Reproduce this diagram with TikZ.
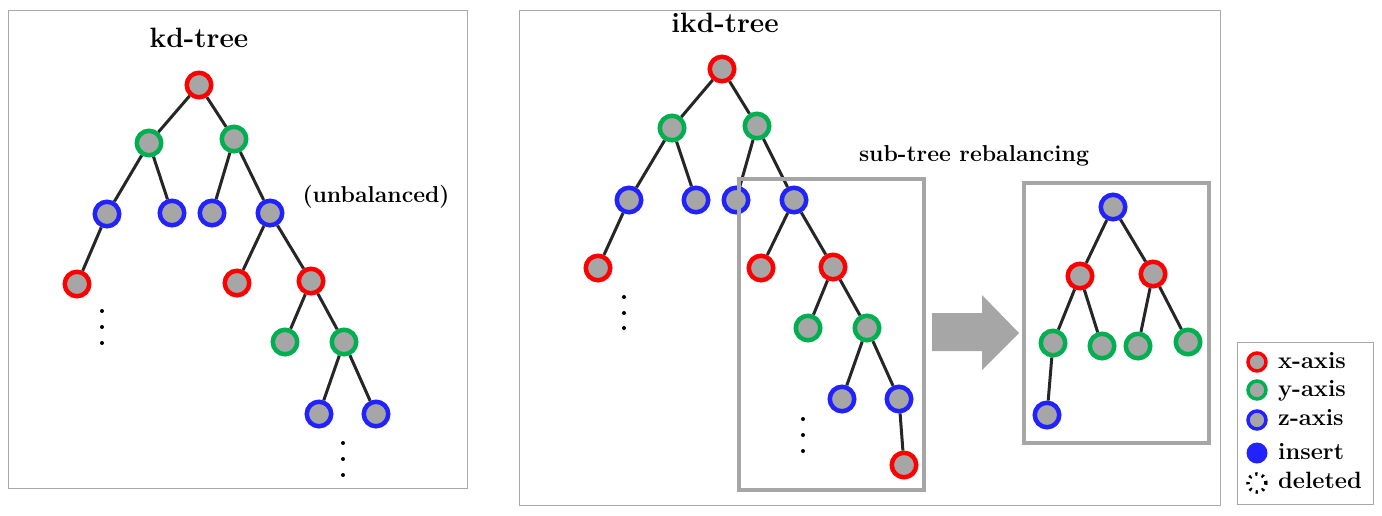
\documentclass[tikz,border=0pt]{standalone}
\usepackage{fontspec}
\definecolor{xred}{HTML}{FF0000}
\definecolor{ygreen}{HTML}{00B050}
\definecolor{zblue}{HTML}{2222FF}
\definecolor{ndgray}{HTML}{A6A6A6}
\definecolor{edgecol}{HTML}{262626}
\definecolor{framegray}{HTML}{A8A8A8}
\definecolor{boxgray}{HTML}{A6A6A6}
\tikzset{
  nd/.style={circle, line width=4.5pt, fill=ndgray, minimum size=24.5pt, inner sep=0pt},
  xn/.style={nd, draw=xred},
  yn/.style={nd, draw=ygreen},
  zn/.style={nd, draw=zblue},
  ln/.style={circle, line width=3.5pt, fill=ndgray, minimum size=18pt, inner sep=0pt},
  edge/.style={line width=3pt, draw=edgecol},
  frame/.style={draw=framegray, line width=1pt},
  rbox/.style={draw=boxgray, line width=4pt},
  dotm/.style={circle, fill=black, inner sep=0pt, minimum size=4pt},
  ttl/.style={font=\fontsize{28}{31}\selectfont\bfseries, anchor=base, inner sep=0pt},
  lbl/.style={font=\fontsize{23}{26}\selectfont\bfseries, inner sep=0pt},
  lgd/.style={font=\fontsize{23.6}{26}\selectfont\bfseries, inner sep=0pt, anchor=base west},
}
\begin{document}
\begin{tikzpicture}[x=1pt,y=-1pt]
\useasboundingbox (0,0) rectangle (1382,515);
% ---------- frames ----------
\draw[frame] (8,10) rectangle (467,488);
\draw[frame] (519,10) rectangle (1220,505);
\draw[frame] (1237,342) rectangle (1373,504);
% ---------- kd-tree ----------
\node[ttl] (kdt) at (199,47) {kd-tree};
\node[lbl, anchor=base] (unb) at (376,202) {(unbalanced)};
\node[xn] (k0) at (199,85) {};
\node[yn] (k1) at (149,143) {};
\node[yn] (k2) at (234,139) {};
\node[zn] (k3) at (107,214) {};
\node[zn] (k4) at (172,213) {};
\node[zn] (k5) at (212,213) {};
\node[zn] (k6) at (270,213) {};
\node[xn] (k7) at (77,284) {};
\node[xn] (k8) at (237,283) {};
\node[xn] (k9) at (311,281) {};
\node[yn] (k10) at (285,342) {};
\node[yn] (k11) at (344,342) {};
\node[zn] (k12) at (319,414) {};
\node[zn] (k13) at (376,414) {};
\draw[edge] (k0) -- (k1); \draw[edge] (k0) -- (k2);
\draw[edge] (k1) -- (k3); \draw[edge] (k1) -- (k4);
\draw[edge] (k2) -- (k5); \draw[edge] (k2) -- (k6);
\draw[edge] (k3) -- (k7);
\draw[edge] (k6) -- (k8); \draw[edge] (k6) -- (k9);
\draw[edge] (k9) -- (k10); \draw[edge] (k9) -- (k11);
\draw[edge] (k11) -- (k12); \draw[edge] (k11) -- (k13);
\node[dotm] (kd1) at (102,311) {};
\node[dotm] (kd2) at (102,327) {};
\node[dotm] (kd3) at (102,343) {};
\node[dotm] (kd4) at (343,443) {};
\node[dotm] (kd5) at (343,459) {};
\node[dotm] (kd6) at (343,475) {};
% ---------- ikd-tree ----------
\node[ttl] (ikdt) at (725,32) {ikd-tree};
\node[xn] (i0) at (722,69) {};
\node[yn] (i1) at (672,128) {};
\node[yn] (i2) at (757,126) {};
\node[zn] (i3) at (629,200) {};
\node[zn] (i4) at (696,200) {};
\node[zn] (i5) at (736,200) {};
\node[zn] (i6) at (794,200) {};
\node[xn] (i7) at (598,268) {};
\node[xn] (i8) at (761,268) {};
\node[xn] (i9) at (833,267) {};
\node[yn] (i10) at (808,328) {};
\node[yn] (i11) at (867,328) {};
\node[zn] (i12) at (842,399) {};
\node[zn] (i13) at (899,399) {};
\node[xn] (i14) at (904,465) {};
\draw[edge] (i0) -- (i1); \draw[edge] (i0) -- (i2);
\draw[edge] (i1) -- (i3); \draw[edge] (i1) -- (i4);
\draw[edge] (i2) -- (i5); \draw[edge] (i2) -- (i6);
\draw[edge] (i3) -- (i7);
\draw[edge] (i6) -- (i8); \draw[edge] (i6) -- (i9);
\draw[edge] (i9) -- (i10); \draw[edge] (i9) -- (i11);
\draw[edge] (i11) -- (i12); \draw[edge] (i11) -- (i13);
\draw[edge] (i13) -- (i14);
\node[dotm] (id1) at (624,297) {};
\node[dotm] (id2) at (624,313) {};
\node[dotm] (id3) at (624,328) {};
\node[dotm] (id4) at (803,419) {};
\node[dotm] (id5) at (803,435) {};
\node[dotm] (id6) at (803,451) {};
% rebalancing box (drawn over nodes)
\draw[rbox] (739,179) rectangle (924,490);
\node[lbl, anchor=base] (sub) at (974,161) {sub-tree rebalancing};
% big arrow
\fill[boxgray] (932,313) -- (982,313) -- (982,295) -- (1019,333) -- (982,370) -- (982,351) -- (932,351) -- cycle;
% rebalanced subtree
\draw[rbox] (1024,183) rectangle (1209,443);
\node[zn] (r0) at (1113,207) {};
\node[xn] (r1) at (1080,276) {};
\node[xn] (r2) at (1153,274) {};
\node[yn] (r3) at (1053,343) {};
\node[yn] (r4) at (1102,346) {};
\node[yn] (r5) at (1138,346) {};
\node[yn] (r6) at (1188,342) {};
\node[zn] (r7) at (1047,415) {};
\draw[edge] (r0) -- (r1); \draw[edge] (r0) -- (r2);
\draw[edge] (r1) -- (r3); \draw[edge] (r1) -- (r4);
\draw[edge] (r2) -- (r5); \draw[edge] (r2) -- (r6);
\draw[edge] (r3) -- (r7);
% ---------- legend ----------
\node[ln, draw=xred] (lx) at (1257,362) {};
\node[ln, draw=ygreen] (ly) at (1257,390) {};
\node[ln, draw=zblue] (lz) at (1257,420) {};
\node[circle, fill=zblue, minimum size=21pt, inner sep=0pt] (li) at (1257,453) {};
\node[circle, draw=black, line width=3.5pt, dash pattern=on 2.2pt off 4.6pt, minimum size=18pt, inner sep=0pt] (ld) at (1257,483) {};
\node[lgd] (tx) at (1278,368) {x-axis};
\node[lgd] (ty) at (1278,396) {y-axis};
\node[lgd] (tz) at (1278,425) {z-axis};
\node[lgd] (ti) at (1278,459) {insert};
\node[lgd] (td) at (1278,488) {deleted};
\end{tikzpicture}
\end{document}
